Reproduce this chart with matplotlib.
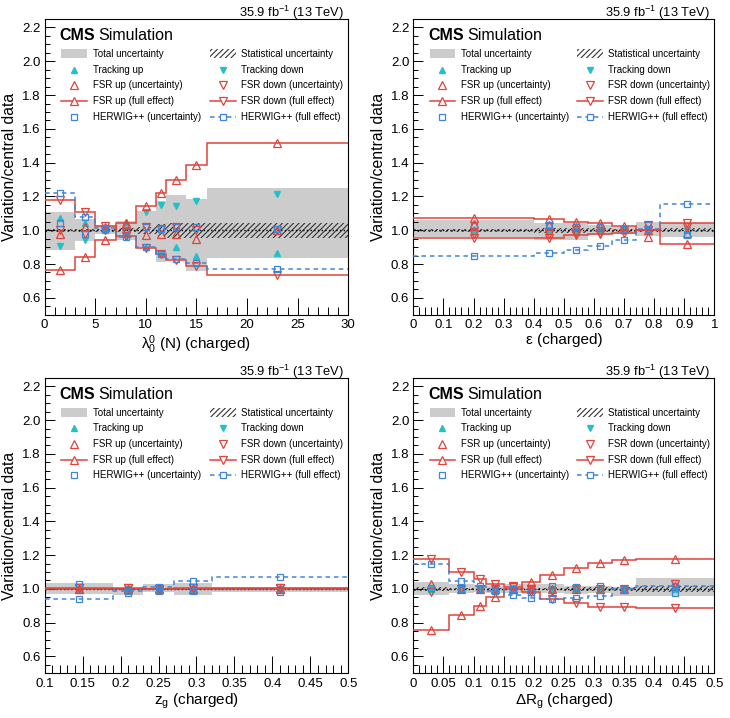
import numpy as np
import matplotlib
matplotlib.use("Agg")
import matplotlib.pyplot as plt
from matplotlib.patches import Rectangle
from matplotlib.ticker import MultipleLocator, FuncFormatter

plt.rcParams['font.family'] = ['Liberation Sans', 'DejaVu Sans']
plt.rcParams['mathtext.fontset'] = 'custom'
plt.rcParams['mathtext.rm'] = 'Liberation Sans'
plt.rcParams['mathtext.it'] = 'Liberation Sans:italic'
plt.rcParams['mathtext.bf'] = 'Liberation Sans:bold'
plt.rcParams['hatch.linewidth'] = 0.8

GRAY = '#cccccc'
HATCH = '#333333'
CYAN = '#22c1c8'
RED = '#e0433c'
BLUE = '#3f86d6'

# --- lambda_0^0 (N), charged ---
lam_edges = [0, 3, 5, 7, 9, 11, 12, 14, 16, 30]
lam_tot_lo = [0.885, 0.935, 0.975, 0.945, 0.90, 0.81, 0.83, 0.76, 0.835]
lam_tot_hi = [1.105, 1.065, 1.03, 1.055, 1.115, 1.17, 1.21, 1.185, 1.25]
lam_stat = [0.01, 0.01, 0.01, 0.012, 0.02, 0.035, 0.045, 0.045, 0.045]
lam_trk_up = [1.075, 1.045, 1.0, 1.05, 0.90, 0.865, 0.90, 0.85, 0.865]
lam_trk_dn = [0.905, 0.94, 1.0, 0.96, 1.11, 1.15, 1.145, 1.175, 1.215]
lam_fsr_up_unc = [0.98, 1.02, 1.02, 1.03, 0.97, 0.975, 0.98, 0.95, 1.0]
lam_fsr_dn_unc = [1.0, 0.975, 1.0, 0.99, 1.02, 1.01, 1.02, 1.0, 1.0]
lam_fsr_up = [0.766, 0.84, 0.94, 1.044, 1.145, 1.222, 1.297, 1.386, 1.515]
lam_fsr_dn = [1.176, 1.105, 1.026, 0.964, 0.897, 0.857, 0.822, 0.788, 0.735]
lam_hw_unc = [1.04, 0.975, 1.01, 1.0, 1.02, 1.01, 1.02, 1.02, 1.01]
lam_hw = [1.218, 1.078, 1.015, 0.96, 0.90, 0.86, 0.828, 0.808, 0.772]

# --- epsilon, charged ---
eps_edges = [0, 0.4, 0.5, 0.58, 0.66, 0.74, 0.82, 1.0]
eps_tot_lo = [0.958, 0.945, 0.94, 0.97, 0.98, 0.965, 0.96]
eps_tot_hi = [1.058, 1.04, 1.04, 1.03, 1.02, 1.05, 1.045]
eps_stat = [0.01, 0.015, 0.015, 0.012, 0.01, 0.01, 0.012]
eps_trk_up = [1.005, 1.0, 1.005, 1.0, 1.0, 1.0, 1.0]
eps_trk_dn = [0.995, 1.0, 0.995, 1.0, 1.0, 1.0, 1.0]
eps_fsr_up_unc = [1.035, 1.03, 1.02, 1.02, 1.01, 0.96, 0.985]
eps_fsr_dn_unc = [0.975, 0.975, 0.985, 0.985, 1.0, 1.03, 1.02]
eps_fsr_up = [1.075, 1.065, 1.05, 1.04, 1.025, 1.0, 0.92]
eps_fsr_dn = [0.955, 0.955, 0.97, 0.975, 0.985, 1.0, 1.045]
eps_hw_unc = [1.025, 1.03, 1.02, 1.02, 1.005, 1.03, 0.97]
eps_hw = [0.845, 0.865, 0.88, 0.905, 0.945, 1.01, 1.155]

# --- z_g, charged ---
zg_edges = [0.1, 0.19, 0.23, 0.27, 0.32, 0.5]
zg_tot_lo = [0.968, 0.965, 0.98, 0.965, 0.98]
zg_tot_hi = [1.034, 1.008, 1.028, 1.035, 1.014]
zg_stat = [0.006, 0.006, 0.006, 0.006, 0.006]
zg_trk_up = [1.0, 1.0, 1.0, 1.0, 1.0]
zg_trk_dn = [1.0, 1.0, 1.0, 1.0, 1.0]
zg_fsr_up_unc = [1.0, 1.0, 1.0, 1.0, 1.0]
zg_fsr_dn_unc = [1.005, 1.005, 1.0, 1.005, 1.005]
zg_fsr_up = [1.0, 1.0, 1.0, 1.0, 1.0]
zg_fsr_dn = [1.005, 1.005, 1.0, 1.005, 1.005]
zg_hw_unc = [1.03, 0.975, 0.986, 0.986, 0.98]
zg_hw = [0.94, 0.985, 1.014, 1.044, 1.07]

# --- Delta R_g, charged ---
dr_edges = [0, 0.06, 0.1, 0.12, 0.15, 0.18, 0.21, 0.25, 0.29, 0.33, 0.37, 0.5]
dr_tot_lo = [0.965, 0.975, 0.98, 0.975, 0.975, 0.97, 0.975, 0.97, 0.975, 0.955, 0.96]
dr_tot_hi = [1.04, 1.03, 1.025, 1.02, 1.03, 1.03, 1.03, 1.015, 1.02, 1.01, 1.065]
dr_stat = [0.01, 0.008, 0.008, 0.008, 0.008, 0.008, 0.008, 0.01, 0.01, 0.012, 0.02]
dr_trk_up = [1.0] * 11
dr_trk_dn = [1.0] * 11
dr_fsr_up_unc = [1.03, 1.0, 1.0, 1.0, 1.0, 1.0, 1.0, 1.0, 1.0, 1.0, 1.02]
dr_fsr_dn_unc = [0.98, 1.0, 1.0, 1.0, 1.02, 1.0, 0.99, 1.0, 1.0, 1.0, 1.03]
dr_fsr_up = [0.758, 0.845, 0.90, 0.95, 1.0, 1.04, 1.083, 1.123, 1.155, 1.17, 1.18]
dr_fsr_dn = [1.18, 1.10, 1.06, 1.03, 1.01, 0.98, 0.94, 0.915, 0.895, 0.89, 0.885]
dr_hw_unc = [1.005, 1.0, 1.0, 0.99, 1.0, 0.98, 1.015, 1.01, 1.015, 0.995, 0.975]
dr_hw = [1.145, 1.045, 1.02, 0.985, 0.965, 0.945, 0.94, 0.945, 0.96, 1.0, 1.015]

panels = [
    dict(edges=lam_edges, lo=lam_tot_lo, hi=lam_tot_hi, stat=lam_stat, tu=lam_trk_up, td=lam_trk_dn,
         fuu=lam_fsr_up_unc, fdu=lam_fsr_dn_unc, fu=lam_fsr_up, fd=lam_fsr_dn, hu=lam_hw_unc, hf=lam_hw,
         xlabel=r'$\mathregular{\lambda_{0}^{0}}$ (N) (charged)', xlim=(0, 30), major=5, minor=1,
         rect=[0.0612, 0.5617, 0.4159, 0.4118]),
    dict(edges=eps_edges, lo=eps_tot_lo, hi=eps_tot_hi, stat=eps_stat, tu=eps_trk_up, td=eps_trk_dn,
         fuu=eps_fsr_up_unc, fdu=eps_fsr_dn_unc, fu=eps_fsr_up, fd=eps_fsr_dn, hu=eps_hw_unc, hf=eps_hw,
         xlabel='ε (charged)', xlim=(0, 1), major=0.1, minor=0.02,
         rect=[0.5662, 0.5617, 0.4123, 0.4118]),
    dict(edges=zg_edges, lo=zg_tot_lo, hi=zg_tot_hi, stat=zg_stat, tu=zg_trk_up, td=zg_trk_dn,
         fuu=zg_fsr_up_unc, fdu=zg_fsr_dn_unc, fu=zg_fsr_up, fd=zg_fsr_dn, hu=zg_hw_unc, hf=zg_hw,
         xlabel=r'$\mathregular{z_{g}}$ (charged)', xlim=(0.1, 0.5), major=0.05, minor=0.01,
         rect=[0.0612, 0.0623, 0.4159, 0.4113]),
    dict(edges=dr_edges, lo=dr_tot_lo, hi=dr_tot_hi, stat=dr_stat, tu=dr_trk_up, td=dr_trk_dn,
         fuu=dr_fsr_up_unc, fdu=dr_fsr_dn_unc, fu=dr_fsr_up, fd=dr_fsr_dn, hu=dr_hw_unc, hf=dr_hw,
         xlabel=r'$\mathregular{\Delta R_{g}}$ (charged)', xlim=(0, 0.5), major=0.05, minor=0.01,
         rect=[0.5662, 0.0623, 0.4123, 0.4113]),
]


def draw_legend(ax):
    tr = ax.transAxes
    rows = [0.882, 0.829, 0.776, 0.723, 0.670]
    c1, c2 = (0.054, 0.139), (0.544, 0.630)
    t1, t2 = 0.158, 0.646
    fs = 7.0
    h = 0.031
    ax.add_patch(Rectangle((c1[0], rows[0] - h / 2), c1[1] - c1[0], h, transform=tr, color=GRAY, lw=0))
    ax.add_patch(Rectangle((c2[0], rows[0] - h / 2), c2[1] - c2[0], h, transform=tr,
                           facecolor='none', edgecolor=HATCH, hatch='//////', lw=0))
    m1, m2 = sum(c1) / 2, sum(c2) / 2
    ax.plot([m1], [rows[1]], '^', color=CYAN, ms=4.5, transform=tr)
    ax.plot([m2], [rows[1]], 'v', color=CYAN, ms=4.5, transform=tr)
    ax.plot([m1], [rows[2]], '^', mfc='none', mec=RED, ms=5.5, mew=0.9, transform=tr)
    ax.plot([m2], [rows[2]], 'v', mfc='none', mec=RED, ms=5.5, mew=0.9, transform=tr)
    ax.plot(c1, [rows[3]] * 2, color=RED, lw=1.1, transform=tr)
    ax.plot([m1], [rows[3]], '^', mfc='white', mec=RED, ms=5.5, mew=0.9, transform=tr)
    ax.plot(c2, [rows[3]] * 2, color=RED, lw=1.1, transform=tr)
    ax.plot([m2], [rows[3]], 'v', mfc='white', mec=RED, ms=5.5, mew=0.9, transform=tr)
    ax.plot([m1], [rows[4]], 's', mfc='none', mec=BLUE, ms=5, mew=0.9, transform=tr)
    ax.plot(c2, [rows[4]] * 2, color=BLUE, lw=1.1, ls=(0, (3, 2.5)), transform=tr)
    ax.plot([m2], [rows[4]], 's', mfc='white', mec=BLUE, ms=5, mew=0.9, transform=tr)
    labels1 = ['Total uncertainty', 'Tracking up', 'FSR up (uncertainty)', 'FSR up (full effect)',
               'HERWIG++ (uncertainty)']
    labels2 = ['Statistical uncertainty', 'Tracking down', 'FSR down (uncertainty)', 'FSR down (full effect)',
               'HERWIG++ (full effect)']
    for y, a, b in zip(rows, labels1, labels2):
        ax.text(t1, y, a, transform=tr, fontsize=fs, va='center')
        ax.text(t2, y, b, transform=tr, fontsize=fs, va='center')


fig = plt.figure(figsize=(7.3, 7.18), dpi=100)

for p in panels:
    ax = fig.add_axes(p['rect'])
    e = np.array(p['edges'], dtype=float)
    c = 0.5 * (e[1:] + e[:-1])
    stat = np.array(p['stat'])

    ax.stairs(p['hi'], e, baseline=p['lo'], fill=True, color=GRAY, lw=0, zorder=1)
    ax.stairs(1 + stat, e, baseline=1 - stat, fill=True, facecolor='none', edgecolor=HATCH,
              hatch='//////', lw=0, zorder=2)
    ax.axhline(1.0, color='k', ls=':', lw=1.0, zorder=3)

    ax.plot(c, p['tu'], '^', color=CYAN, ms=4.5, ls='none', zorder=4)
    ax.plot(c, p['td'], 'v', color=CYAN, ms=4.5, ls='none', zorder=4)
    ax.plot(c, p['fuu'], '^', mfc='none', mec=RED, ms=5.5, mew=0.9, ls='none', zorder=5)
    ax.plot(c, p['fdu'], 'v', mfc='none', mec=RED, ms=5.5, mew=0.9, ls='none', zorder=5)
    ax.stairs(p['fu'], e, baseline=None, color=RED, lw=1.1, zorder=5)
    ax.stairs(p['fd'], e, baseline=None, color=RED, lw=1.1, zorder=5)
    ax.plot(c, p['fu'], '^', mfc='none', mec=RED, ms=5.5, mew=0.9, ls='none', zorder=6)
    ax.plot(c, p['fd'], 'v', mfc='none', mec=RED, ms=5.5, mew=0.9, ls='none', zorder=6)
    ax.plot(c, p['hu'], 's', mfc='none', mec=BLUE, ms=5, mew=0.9, ls='none', zorder=6)
    ax.stairs(p['hf'], e, baseline=None, color=BLUE, lw=1.1, ls=(0, (3, 2.5)), zorder=5)
    ax.plot(c, p['hf'], 's', mfc='none', mec=BLUE, ms=5, mew=0.9, ls='none', zorder=6)

    ax.set_xlim(*p['xlim'])
    ax.set_ylim(0.5, 2.25)
    ax.xaxis.set_major_locator(MultipleLocator(p['major']))
    ax.xaxis.set_minor_locator(MultipleLocator(p['minor']))
    ax.xaxis.set_major_formatter(FuncFormatter(lambda v, pos: f'{round(v, 3):g}'))
    ax.yaxis.set_major_locator(MultipleLocator(0.2))
    ax.yaxis.set_minor_locator(MultipleLocator(0.05))
    ax.yaxis.set_major_formatter(FuncFormatter(lambda v, pos: f'{v:.1f}'))
    ax.tick_params(which='both', direction='in', top=False, right=False, width=0.7, labelsize=9.5)
    ax.tick_params(axis='x', which='major', length=12, pad=3.3)
    ax.tick_params(axis='x', which='minor', length=6)
    ax.tick_params(axis='y', which='major', length=7, pad=2.9)
    ax.tick_params(axis='y', which='minor', length=3.6)
    for s in ax.spines.values():
        s.set_linewidth(0.8)

    ax.set_xlabel(p['xlabel'], fontsize=11)
    ax.xaxis.set_label_coords(0.5, -0.062)
    ax.set_ylabel('Variation/central data', fontsize=11.3)
    ax.yaxis.set_label_coords(-0.09, 0.5)

    ax.text(0.985, 1.008, '35.9 fb$^{\\mathregular{-1}}$ (13 TeV)', transform=ax.transAxes,
            ha='right', va='baseline', fontsize=9.3)
    t = ax.text(0.05, 0.929, 'CMS', transform=ax.transAxes, fontsize=11.5, fontweight='bold', va='baseline')
    ax.annotate('Simulation', xy=(1, 0), xycoords=t, xytext=(2, 0), textcoords='offset points',
                fontsize=11.5, va='bottom')
    draw_legend(ax)

fig.savefig('out.png', dpi=100)
